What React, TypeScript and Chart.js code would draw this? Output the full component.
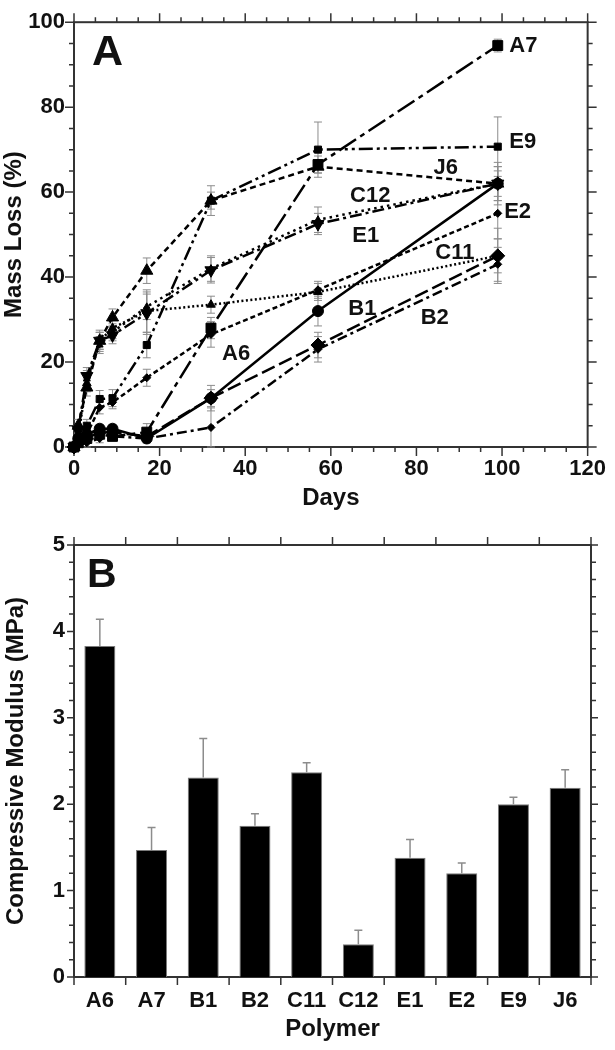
import React, { useEffect, useRef } from 'react';
import { Chart, registerables } from 'chart.js';

Chart.register(...registerables);

const FONT = "'Liberation Sans', Arial, Helvetica, sans-serif";
const INK = '#111';
const AXIS = '#333';
const ERR = '#8c8c8c';

// ---------- Panel A: mass loss (%) vs days ----------
const DAYS = [0, 1, 3, 6, 9, 17, 32, 57, 99];

const A6_LOSS = [0, 2, 3, 4.3, 4.3, 2, 11.5, 32, 62];
const A7_LOSS = [0, 1, 2, 3, 2.5, 3.5, 28, 66.5, 94.5];
const B1_LOSS = [0, 1, 2, 3.5, 3.5, 2.5, 11.5, 24, 45];
const B2_LOSS = [0, 0.5, 1, 2, 2.5, 2, 4.6, 23, 43];
const C11_LOSS = [0, 3, 15, 25, 28, 32, 33.5, 36.5, 45];
const C12_LOSS = [0, 4, 16, 24, 27, 33, 42, 53.5, 62];
const E1_LOSS = [0, 4, 16.7, 25, 26.3, 31.5, 41.6, 52.5, 62];
const E2_LOSS = [0, 1, 3, 9.3, 10.5, 16.3, 26.5, 37, 55];
const E9_LOSS = [0, 2, 5, 11.3, 11.5, 24, 58, 70, 70.7];
const J6_LOSS = [0, 5, 14, 25, 30.5, 41.5, 58, 66, 62];

const A6_ERR = [0, 1, 1, 1, 1, 1, 3, 3.5, 4];
const A7_ERR = [0, 1, 1, 1, 1, 2, 2.5, 2, 1.5];
const B1_ERR = [0, 1, 1, 1, 1, 1, 2, 3, 4];
const B2_ERR = [0, 0.5, 1, 1, 1, 1, 4.6, 3, 4];
const C11_ERR = [0, 1, 2, 2, 2.5, 5, 2, 2, 6.5];
const C12_ERR = [0, 1, 2, 2, 2, 3, 3, 3, 5];
const E1_ERR = [0, 1, 2, 2, 2, 5, 3, 2.5, 4];
const E2_ERR = [0, 1, 1, 1.5, 1.5, 2, 3, 2, 6];
const E9_ERR = [0, 1, 1.5, 2, 2, 3, 3.5, 6.5, 7];
const J6_ERR = [0, 1.5, 2, 2.5, 2, 3, 2, 1.5, 3];

// text annotations placed next to the curves (in data units)
const CURVE_NAMES = ['A7', 'E9', 'J6', 'C12', 'E2', 'E1', 'C11', 'B1', 'B2', 'A6'];
const CURVE_NAME_DAYS = [101.7, 101.7, 84, 64.5, 100.5, 65, 84.4, 64.1, 81, 34.6];
const CURVE_NAME_VALUES = [94.4, 71.8, 65.7, 59.1, 55.3, 49.8, 45.6, 32.5, 30.3, 21.9];

// ---------- Panel B: compressive modulus ----------
const POLYMERS = ['A6', 'A7', 'B1', 'B2', 'C11', 'C12', 'E1', 'E2', 'E9', 'J6'];
const MODULUS = [3.83, 1.47, 2.31, 1.75, 2.37, 0.38, 1.38, 1.2, 2.0, 2.19];
const MODULUS_ERR = [0.31, 0.26, 0.45, 0.14, 0.11, 0.16, 0.21, 0.12, 0.08, 0.21];

const LINE_SERIES = [
  { name: 'A6', values: A6_LOSS, errors: A6_ERR, dash: [] as number[], shape: 'circle', radius: 5.5, rotation: 0 },
  { name: 'A7', values: A7_LOSS, errors: A7_ERR, dash: [20, 5, 5, 5], shape: 'rect', radius: 7, rotation: 0 },
  { name: 'B1', values: B1_LOSS, errors: B1_ERR, dash: [14, 5], shape: 'rectRot', radius: 7, rotation: 0 },
  { name: 'B2', values: B2_LOSS, errors: B2_ERR, dash: [10, 4, 3, 4], shape: 'rectRot', radius: 4, rotation: 0 },
  { name: 'C11', values: C11_LOSS, errors: C11_ERR, dash: [2, 2.5], shape: 'triangle', radius: 5, rotation: 0 },
  { name: 'C12', values: C12_LOSS, errors: C12_ERR, dash: [2.5, 4], shape: 'triangle', radius: 4, rotation: 0 },
  { name: 'E1', values: E1_LOSS, errors: E1_ERR, dash: [12, 4, 3, 4], shape: 'triangle', radius: 7, rotation: 180 },
  { name: 'E2', values: E2_LOSS, errors: E2_ERR, dash: [5, 3], shape: 'rectRot', radius: 4, rotation: 0 },
  { name: 'E9', values: E9_LOSS, errors: E9_ERR, dash: [14, 4, 3, 4, 3, 4], shape: 'rect', radius: 5, rotation: 0 },
  { name: 'J6', values: J6_LOSS, errors: J6_ERR, dash: [6, 4], shape: 'triangle', radius: 7, rotation: 0 },
];

const tickFont = { family: FONT, size: 22, weight: 'bold' as const };
const titleFont = { family: FONT, size: 24, weight: 'bold' as const };

function strokeFrame(chart: any) {
  const { ctx, chartArea: a } = chart;
  ctx.save();
  ctx.strokeStyle = AXIS;
  ctx.lineWidth = 2;
  ctx.strokeRect(a.left, a.top, a.right - a.left, a.bottom - a.top);
  ctx.restore();
}

const frameA = {
  id: 'frameA',
  beforeDatasetsDraw(chart: any) {
    const { ctx, chartArea: a, scales } = chart;
    strokeFrame(chart);
    ctx.save();
    ctx.strokeStyle = AXIS;
    ctx.lineWidth = 1.5;
    ctx.beginPath();
    for (let v = 0; v <= 120; v += 5) {
      const px = scales.x.getPixelForValue(v);
      const len = v % 20 === 0 ? 9 : 5;
      ctx.moveTo(px, a.bottom); ctx.lineTo(px, a.bottom + len);
      ctx.moveTo(px, a.top); ctx.lineTo(px, a.top - len);
    }
    for (let v = 0; v <= 100; v += 5) {
      const py = scales.y.getPixelForValue(v);
      const len = v % 20 === 0 ? 9 : 5;
      ctx.moveTo(a.left, py); ctx.lineTo(a.left - len, py);
      ctx.moveTo(a.right, py); ctx.lineTo(a.right + len, py);
    }
    ctx.stroke();
    ctx.restore();
  },
};

const errorsA = {
  id: 'errorsA',
  beforeDatasetsDraw(chart: any) {
    const { ctx, scales } = chart;
    ctx.save();
    ctx.strokeStyle = ERR;
    ctx.lineWidth = 1;
    chart.data.datasets.forEach((ds: any) => {
      ds.data.forEach((p: any, i: number) => {
        const e = ds.errors ? ds.errors[i] : 0;
        if (!e) return;
        const px = scales.x.getPixelForValue(p.x);
        const y1 = scales.y.getPixelForValue(p.y + e);
        const y2 = scales.y.getPixelForValue(Math.max(0, p.y - e));
        ctx.beginPath();
        ctx.moveTo(px, y1); ctx.lineTo(px, y2);
        ctx.moveTo(px - 4, y1); ctx.lineTo(px + 4, y1);
        ctx.moveTo(px - 4, y2); ctx.lineTo(px + 4, y2);
        ctx.stroke();
      });
    });
    ctx.restore();
  },
};

const namesA = {
  id: 'namesA',
  afterDatasetsDraw(chart: any) {
    const { ctx, scales, chartArea: a } = chart;
    ctx.save();
    ctx.fillStyle = INK;
    ctx.font = `bold 22px ${FONT}`;
    ctx.textAlign = 'left';
    ctx.textBaseline = 'middle';
    CURVE_NAMES.forEach((n, i) => {
      ctx.fillText(n, scales.x.getPixelForValue(CURVE_NAME_DAYS[i]), scales.y.getPixelForValue(CURVE_NAME_VALUES[i]));
    });
    ctx.font = `bold 43px ${FONT}`;
    ctx.textBaseline = 'alphabetic';
    ctx.fillText('A', a.left + 18, a.top + 43);
    ctx.restore();
  },
};

const frameB = {
  id: 'frameB',
  beforeDatasetsDraw(chart: any) {
    const { ctx, chartArea: a, scales } = chart;
    strokeFrame(chart);
    ctx.save();
    ctx.strokeStyle = AXIS;
    ctx.lineWidth = 1.5;
    ctx.beginPath();
    const n = POLYMERS.length;
    for (let i = 0; i <= n; i++) {
      const px = a.left + ((a.right - a.left) * i) / n;
      ctx.moveTo(px, a.bottom); ctx.lineTo(px, a.bottom + 8);
      ctx.moveTo(px, a.top); ctx.lineTo(px, a.top - 8);
    }
    for (let k = 0; k <= 25; k++) {
      const v = k * 0.2;
      const py = scales.y.getPixelForValue(v);
      const len = k % 5 === 0 ? 7 : 5;
      ctx.moveTo(a.left, py); ctx.lineTo(a.left - len, py);
      ctx.moveTo(a.right, py); ctx.lineTo(a.right + len, py);
    }
    ctx.stroke();
    ctx.restore();
  },
};

const errorsB = {
  id: 'errorsB',
  afterDatasetsDraw(chart: any) {
    const { ctx, scales } = chart;
    const meta = chart.getDatasetMeta(0);
    const ds: any = chart.data.datasets[0];
    ctx.save();
    ctx.strokeStyle = ERR;
    ctx.lineWidth = 1.5;
    meta.data.forEach((bar: any, i: number) => {
      const top = scales.y.getPixelForValue(ds.data[i]);
      const up = scales.y.getPixelForValue(ds.data[i] + ds.errors[i]);
      ctx.beginPath();
      ctx.moveTo(bar.x, top); ctx.lineTo(bar.x, up);
      ctx.moveTo(bar.x - 4, up); ctx.lineTo(bar.x + 4, up);
      ctx.stroke();
    });
    ctx.font = `bold 41px ${FONT}`;
    ctx.fillStyle = INK;
    ctx.textAlign = 'left';
    ctx.textBaseline = 'alphabetic';
    ctx.fillText('B', chart.chartArea.left + 13, chart.chartArea.top + 42);
    ctx.restore();
  },
};

function makeLineChart(canvas: HTMLCanvasElement) {
  return new Chart(canvas, {
    type: 'line',
    data: {
      datasets: LINE_SERIES.map((s) => ({
        label: s.name,
        data: DAYS.map((d, i) => ({ x: d, y: s.values[i] })),
        errors: s.errors,
        borderColor: '#000',
        backgroundColor: '#000',
        borderWidth: 2.5,
        borderDash: s.dash,
        pointStyle: s.shape,
        pointRadius: s.radius,
        pointRotation: s.rotation,
        pointBorderWidth: 1,
        pointBackgroundColor: '#000',
        pointBorderColor: '#000',
        tension: 0,
        clip: false,
      })) as any,
    },
    options: {
      responsive: true,
      maintainAspectRatio: false,
      animation: false,
      layout: { padding: { top: 15, right: 23, left: 0, bottom: 0 } },
      plugins: { legend: { display: false }, tooltip: { enabled: false } },
      scales: {
        x: {
          type: 'linear',
          min: 0,
          max: 120,
          grid: { display: false, drawTicks: false },
          border: { display: false },
          ticks: { stepSize: 20, padding: 9, font: tickFont, color: INK, maxRotation: 0, autoSkip: false },
          title: { display: true, text: 'Days', font: titleFont, color: INK, padding: { top: 0, bottom: 2 } },
          afterFit: (s: any) => { s.height = 68; },
        },
        y: {
          type: 'linear',
          min: 0,
          max: 100,
          grid: { display: false, drawTicks: false },
          border: { display: false },
          ticks: { stepSize: 20, padding: 9, font: tickFont, color: INK },
          title: { display: true, text: 'Mass Loss (%)', font: titleFont, color: INK, padding: { top: 0, bottom: 0 } },
          afterFit: (s: any) => { s.width = 74; },
        },
      },
    } as any,
    plugins: [frameA, errorsA, namesA],
  });
}

function makeBarChart(canvas: HTMLCanvasElement) {
  return new Chart(canvas, {
    type: 'bar',
    data: {
      labels: POLYMERS,
      datasets: [
        {
          label: 'Compressive Modulus',
          data: MODULUS,
          errors: MODULUS_ERR,
          backgroundColor: '#000',
          borderColor: '#7a7a7a',
          borderWidth: 1,
          barPercentage: 0.6,
          categoryPercentage: 1,
        } as any,
      ],
    },
    options: {
      responsive: true,
      maintainAspectRatio: false,
      animation: false,
      layout: { padding: { top: 30, right: 24, left: 0, bottom: 0 } },
      plugins: { legend: { display: false }, tooltip: { enabled: false } },
      scales: {
        x: {
          grid: { display: false, drawTicks: false },
          border: { display: false },
          ticks: { padding: 11, font: tickFont, color: INK, maxRotation: 0, autoSkip: false },
          title: { display: true, text: 'Polymer', font: titleFont, color: INK, padding: { top: 0, bottom: 6 } },
          afterFit: (s: any) => { s.height = 73; },
        },
        y: {
          min: 0,
          max: 5,
          grid: { display: false, drawTicks: false },
          border: { display: false },
          ticks: { stepSize: 1, padding: 9, font: tickFont, color: INK },
          title: { display: true, text: 'Compressive Modulus (MPa)', font: titleFont, color: INK, padding: { top: 2, bottom: 0 } },
          afterFit: (s: any) => { s.width = 74; },
        },
      },
    } as any,
    plugins: [frameB, errorsB],
  });
}

export default function App() {
  const refA = useRef<HTMLCanvasElement>(null);
  const refB = useRef<HTMLCanvasElement>(null);
  useEffect(() => {
    const a = makeLineChart(refA.current!);
    const b = makeBarChart(refB.current!);
    return () => {
      a.destroy();
      b.destroy();
    };
  }, []);
  return (
    <div style={{ position: 'absolute', left: 0, top: 0, width: 615, height: 1050, background: '#fff' }}>
      <div style={{ position: 'absolute', left: 0, top: 0, width: 615, height: 515 }}>
        <canvas ref={refA} />
      </div>
      <div style={{ position: 'absolute', left: 0, top: 515, width: 615, height: 535 }}>
        <canvas ref={refB} />
      </div>
    </div>
  );
}
